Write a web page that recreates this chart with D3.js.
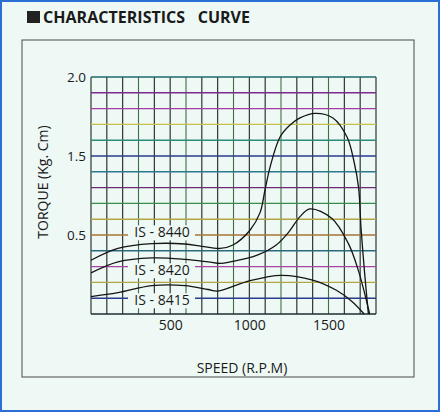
<!DOCTYPE html>
<html>
<head>
<meta charset="utf-8">
<script src="https://cdn.jsdelivr.net/npm/d3@7"></script>
<style>
  body { margin: 0; background: #eef8f5; }
  svg { display: block; }
  text { font-family: "Open Sans", "DejaVu Sans", sans-serif; fill: #1a1a1a; }
</style>
</head>
<body>
<svg width="440" height="412"></svg>
<script>
// Datos (velocidad en RPM, par en Kg.Cm)
const speed8440 = [0, 170, 385, 594, 700, 815, 897, 1004, 1067, 1099, 1131, 1194, 1257, 1320, 1415, 1528, 1617, 1660, 1690, 1705, 1728, 1752];
const torque8440 = [0.84, 0.915, 0.945, 0.943, 0.928, 0.915, 0.937, 1.03, 1.14, 1.285, 1.43, 1.62, 1.696, 1.741, 1.77, 1.741, 1.62, 1.47, 1.3, 1.05, 0.76, 0.5];

const speed8420 = [0, 170, 385, 594, 740, 820, 880, 1050, 1170, 1250, 1320, 1383, 1520, 1625, 1688, 1760];
const torque8420 = [0.76, 0.83, 0.855, 0.846, 0.83, 0.82, 0.83, 0.873, 0.937, 1.02, 1.116, 1.165, 1.106, 0.947, 0.778, 0.5];

const speed8415 = [0, 170, 385, 594, 740, 800, 1000, 1200, 1400, 1550, 1650, 1725];
const torque8415 = [0.61, 0.635, 0.68, 0.68, 0.655, 0.645, 0.71, 0.745, 0.715, 0.65, 0.578, 0.5];

const seriesNames = ["IS - 8440", "IS - 8420", "IS - 8415"];
const labelTorque = [0.985, 0.745, 0.555]; // linea base de cada etiqueta

const xTickValues = [500, 1000, 1500];
const yTickValues = [2.0, 1.5, 1.0];
const yTickLabels = ["2.0", "1.5", "0.5"]; // tal como aparece impreso

// Colores de las lineas horizontales de la cuadricula (de arriba a abajo)
const gridColors = ["#1f6a6a", "#7a2c8c", "#a33aa6", "#c9c04a", "#2b8a78", "#2b3c8c",
                    "#2a7a8c", "#6e2a70", "#3a8a4c", "#b3a444", "#a77434", "#2a6a7c",
                    "#a844a4", "#b3a444", "#2b3c8c", "#1e2e30"];

const svg = d3.select("svg");

// Borde azul de la imagen
svg.append("rect")
    .attr("x", 1).attr("y", 1).attr("width", 438).attr("height", 410)
    .attr("fill", "none").attr("stroke", "#2b6fd4").attr("stroke-width", 2);

// Titulo
svg.append("rect").attr("x", 27).attr("y", 11).attr("width", 13).attr("height", 12).attr("fill", "#222");
svg.append("text").attr("x", 43).attr("y", 23)
    .style("font-size", "16px").style("font-weight", "bold")
    .attr("textLength", 207)
    .attr("xml:space", "preserve")
    .text("CHARACTERISTICS   CURVE");

// Marco exterior
svg.append("rect")
    .attr("x", 22).attr("y", 40).attr("width", 392).attr("height", 337)
    .attr("fill", "none").attr("stroke", "#4a4a44").attr("stroke-width", 1);

const x = d3.scaleLinear().domain([0, 1800]).range([91, 376]);
const y = d3.scaleLinear().domain([0.5, 2.0]).range([314, 77]);

// Cuadricula vertical
const grid = svg.append("g");
grid.selectAll("line.v")
    .data(d3.range(0, 1801, 100))
    .enter().append("line")
    .attr("x1", d => x(d)).attr("x2", d => x(d))
    .attr("y1", y(2.0)).attr("y2", y(0.5))
    .attr("stroke", (d, i) => i % 3 === 0 && i > 0 && i < 18 ? "#3d6e44" : "#1b261e")
    .attr("stroke-width", 1.1);

// Cuadricula horizontal
grid.selectAll("line.h")
    .data(d3.range(0, 16))
    .enter().append("line")
    .attr("x1", x(0)).attr("x2", x(1800))
    .attr("y1", i => y(2.0 - i * 0.1)).attr("y2", i => y(2.0 - i * 0.1))
    .attr("stroke", i => gridColors[i])
    .attr("stroke-width", 1.4);

// Ejes (solo etiquetas)
const xAxis = svg.append("g")
    .attr("transform", `translate(0,${y(0.5)})`)
    .call(d3.axisBottom(x).tickValues(xTickValues).tickSize(0).tickPadding(6)
        .tickFormat(d3.format("d")));
xAxis.select(".domain").remove();
xAxis.selectAll("text").style("font-size", "14px").style("fill", "#1a1a1a");

const yAxis = svg.append("g")
    .attr("transform", `translate(${x(0)},0)`)
    .call(d3.axisLeft(y).tickValues(yTickValues).tickSize(0).tickPadding(5)
        .tickFormat((d, i) => yTickLabels[i]));
yAxis.select(".domain").remove();
yAxis.selectAll("text").style("font-size", "13.5px").style("fill", "#1a1a1a");

svg.append("text")
    .attr("x", 242).attr("y", 373)
    .attr("text-anchor", "middle")
    .style("font-size", "14px")
    .text("SPEED (R.P.M)");

svg.append("text")
    .attr("transform", "translate(48,182) rotate(-90)")
    .attr("text-anchor", "middle")
    .style("font-size", "14px")
    .text("TORQUE (Kg. Cm)");

// Curvas
const line = d3.line()
    .x(d => x(d[0]))
    .y(d => y(d[1]))
    .curve(d3.curveCatmullRom.alpha(0.5));

const series = [
    d3.zip(speed8440, torque8440),
    d3.zip(speed8420, torque8420),
    d3.zip(speed8415, torque8415)
];

// Etiquetas con fondo
const labels = svg.append("g");
labels.selectAll("rect")
    .data(seriesNames)
    .enter().append("rect")
    .attr("x", 128).attr("width", 67)
    .attr("y", (d, i) => y(labelTorque[i]) - 12).attr("height", 15)
    .attr("fill", "#eef8f5");
labels.selectAll("text")
    .data(seriesNames)
    .enter().append("text")
    .attr("x", 162).attr("y", (d, i) => y(labelTorque[i]))
    .attr("text-anchor", "middle")
    .style("font-size", "14px")
    .text(d => d);

svg.append("g")
    .selectAll("path")
    .data(series)
    .enter().append("path")
    .attr("d", line)
    .attr("fill", "none")
    .attr("stroke", "#151515")
    .attr("stroke-width", 1.3);
</script>
</body>
</html>
